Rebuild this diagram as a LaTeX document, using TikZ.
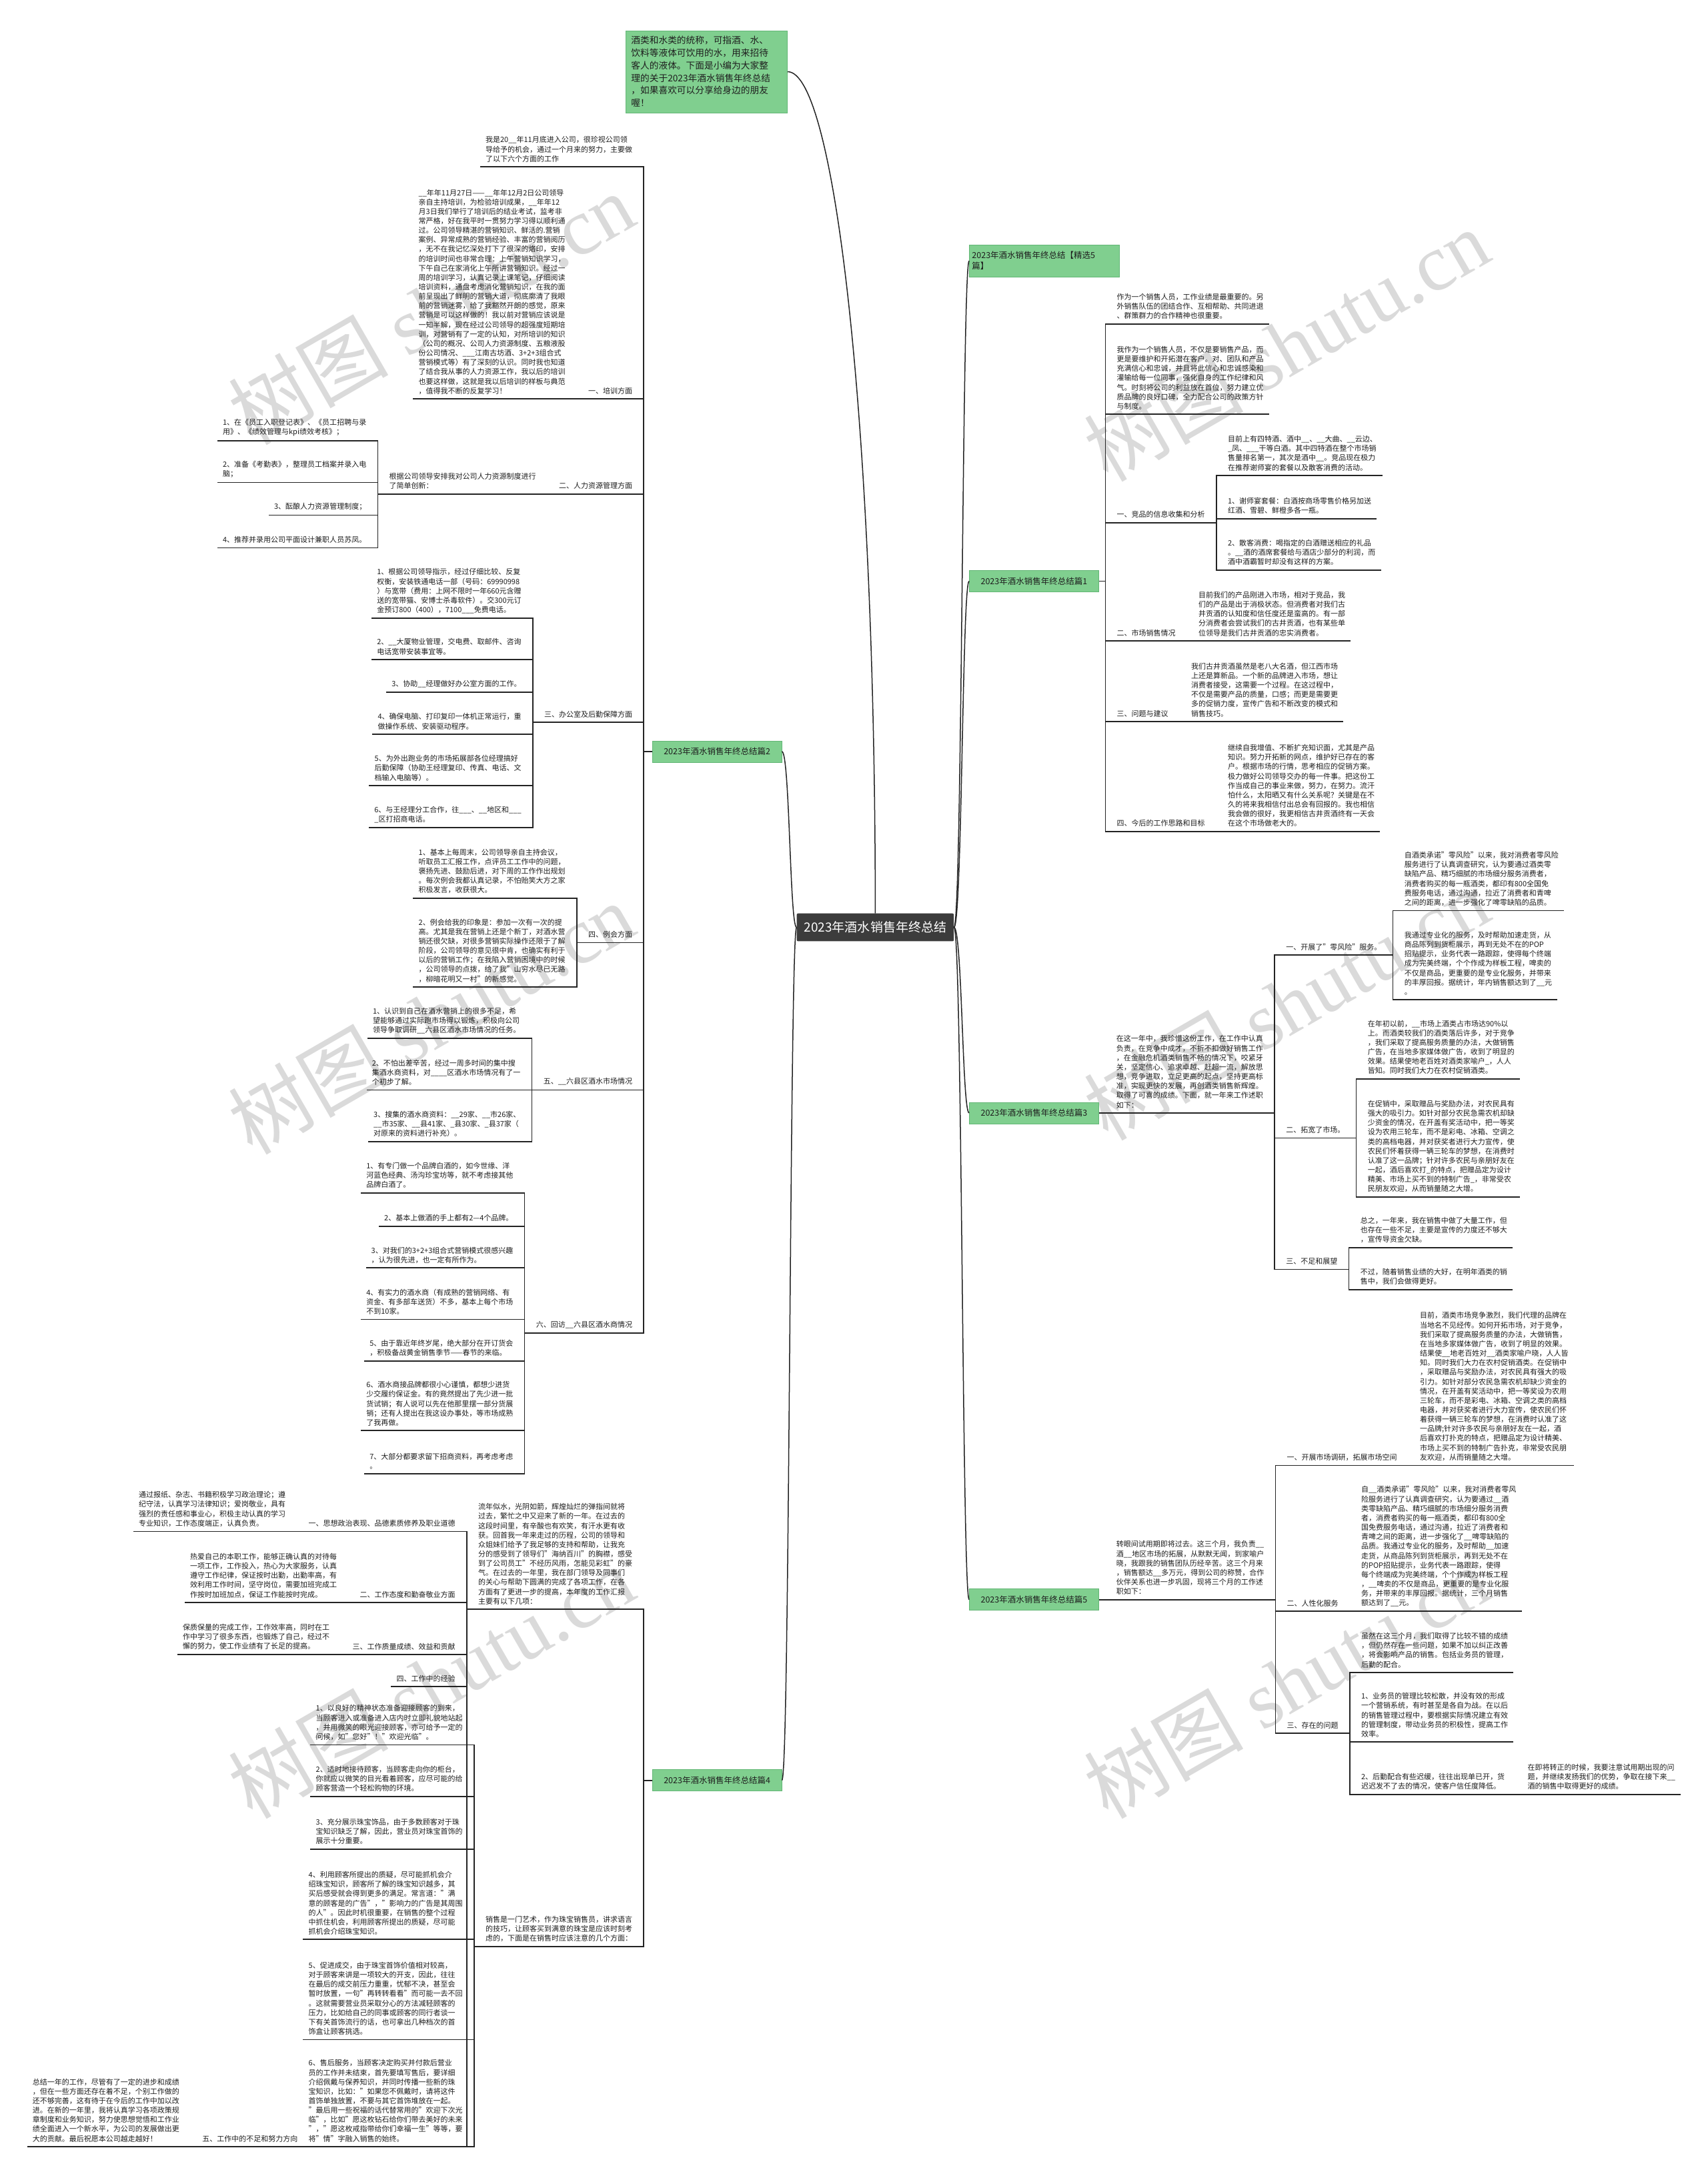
\documentclass[tikz,border=0pt]{standalone}
\usepackage{fontspec}
\setmainfont{Noto Sans CJK SC}
\newfontfamily\wmlatin{Liberation Serif}
\usepackage{xcolor}
\usetikzlibrary{math}
\definecolor{sgreen}{RGB}{128,207,143}
\definecolor{sgreenline}{RGB}{98,182,117}
\definecolor{rootgray}{RGB}{60,60,60}
\definecolor{linegray}{RGB}{35,35,35}
\definecolor{txtgray}{RGB}{30,30,30}
\definecolor{wmgray}{RGB}{218,218,218}
\newcommand\leaffont{\fontsize{11pt}{14.15pt}\selectfont}
\newcommand\sectfont{\fontsize{12.5pt}{16pt}\selectfont}
\tikzset{
  leaf/.style={inner xsep=8pt, inner ysep=6.8pt, align=left, font=\leaffont, text=txtgray},
  sect/.style={fill=sgreen, draw=sgreenline, line width=0.6pt, inner xsep=4pt, inner ysep=2pt, minimum width=194pt, minimum height=32pt, font=\sectfont, text=txtgray, align=left},
  ul/.style={draw=linegray, line width=1.8pt},
  wmark/.style={text=wmgray, font=\fontsize{120pt}{120pt}\selectfont, rotate=30, inner sep=0pt},
}
\begin{document}
\begin{tikzpicture}[x=2.0847pt,y=-2.0847pt]
\tikzmath{
\busL=463;
\busR=795;
}
\useasboundingbox (0,0) rectangle (1228,1568);
\fill[white] (0,0) rectangle (1228,1568);

% watermarks
\node[wmark] (wm1) at (310,222) {树图 {\wmlatin shutu.cn}};
\node[wmark] (wm2) at (925,248) {树图 {\wmlatin shutu.cn}};
\node[wmark] (wm3) at (310,732) {树图 {\wmlatin shutu.cn}};
\node[wmark] (wm4) at (925,722) {树图 {\wmlatin shutu.cn}};
\node[wmark] (wm5) at (310,1210) {树图 {\wmlatin shutu.cn}};
\node[wmark] (wm6) at (925,1210) {树图 {\wmlatin shutu.cn}};

% root, intro and the five sections
\node[fill=rootgray, text=white, rounded corners=2pt, minimum width=235.6pt, minimum height=41.7pt, font=\fontsize{19pt}{22pt}\selectfont] (root) at (629.5,667) {2023年酒水销售年终总结};
\node[fill=sgreen, draw=sgreenline, line width=0.6pt, anchor=north west, text width=226pt, inner xsep=8pt, inner ysep=8pt, align=left, text=txtgray, font=\fontsize{13.7pt}{18.8pt}\selectfont] (intro) at (450,22) {酒类和水类的统称，可指酒、水、\\饮料等液体可饮用的水，用来招待\\客人的液体。下面是小编为大家整\\理的关于2023年酒水销售年终总结\\，如果喜欢可以分享给身边的朋友\\喔！};
\node[sect, anchor=north west, text width=217pt, minimum height=48pt] (s0) at (697,176) {2023年酒水销售年终总结【精选5\\篇】};
\node[sect, anchor=west] (s1) at (697,418) {2023年酒水销售年终总结篇1};
\node[sect, anchor=west] (s3) at (697,800.5) {2023年酒水销售年终总结篇3};
\node[sect, anchor=west] (s5) at (697,1150.5) {2023年酒水销售年终总结篇5};
\node[sect, anchor=west] (s2) at (469,540.5) {2023年酒水销售年终总结篇2};
\node[sect, anchor=west] (s4) at (469,1280.5) {2023年酒水销售年终总结篇4};

\draw[ul, line width=1.5pt] (root.north) .. controls (629.5,300) and (600,51) .. (intro.east);
\draw[ul, line width=1.5pt] (root.east) .. controls (692,667) and (692,187.5) .. (s0.west);
\draw[ul, line width=1.5pt] (root.east) .. controls (692,667) and (692,418) .. (s1.west);
\draw[ul, line width=1.5pt] (root.east) .. controls (692,667) and (692,800.5) .. (s3.west);
\draw[ul, line width=1.5pt] (root.east) .. controls (692,667) and (692,1150.5) .. (s5.west);
\draw[ul, line width=1.5pt] (root.west) .. controls (568,667) and (568,540.5) .. (s2.east);
\draw[ul, line width=1.5pt] (root.west) .. controls (568,667) and (568,1280.5) .. (s4.east);

% ---- section 2 (left)
\coordinate (b2) at (\busL,540.5);
\draw[ul] (s2.west) -- (b2);
\node[leaf, anchor=south east, xshift=-9pt] (n21) at (b2 |- 0,120) {我是20\_\_年11月底进入公司，很珍视公司领\\导给予的机会，通过一个月来的努力，主要做\\了以下六个方面的工作};
\node[leaf, anchor=south east, xshift=-9pt] (n22) at (b2 |- 0,287) {一、培训方面};
\node[leaf, anchor=south east, xshift=-18pt] (n22t) at (n22.south west) {\_\_年年11月27日——\_\_年年12月2日公司领导\\亲自主持培训，为检验培训成果，\_\_年年12\\月3日我们举行了培训后的结业考试，监考非\\常严格，好在我平时一贯努力学习得以顺利通\\过。公司领导精湛的营销知识、鲜活的.营销\\案例、异常成熟的营销经验、丰富的营销阅历\\，无不在我记忆深处打下了很深的烙印，安排\\的培训时间也非常合理：上午营销知识学习，\\下午自己在家消化上午所讲营销知识。经过一\\周的培训学习，认真记录上课笔记，仔细阅读\\培训资料，通盘考虑消化营销知识，在我的面\\前呈现出了鲜明的营销大道，彻底廓清了我眼\\前的营销迷雾，给了我豁然开朗的感觉，原来\\营销是可以这样做的！我以前对营销应该说是\\一知半解，现在经过公司领导的超强度短期培\\训，对营销有了一定的认知，对所培训的知识\\（公司的概况、公司人力资源制度、五粮液股\\份公司情况、\_\_\_江南古坊酒、3+2+3组合式\\营销模式等）有了深刻的认识。同时我也知道\\了结合我从事的人力资源工作，我以后的培训\\也要这样做，这就是我以后培训的样板与典范\\，值得我不断的反复学习！};
\node[leaf, anchor=south east, xshift=-9pt] (n23) at (b2 |- 0,355.3) {二、人力资源管理方面};
\node[leaf, anchor=south east, xshift=-18pt] (n23t) at (n23.south west) {根据公司领导安排我对公司人力资源制度进行\\了简单创新：};
\coordinate (n23bus) at ([xshift=-9pt]n23t.south west);
\node[leaf, anchor=south east, xshift=-9pt] (n23a) at (n23bus |- 0,317) {1、在《员工入职登记表》、《员工招聘与录\\用》、《绩效管理与kpi绩效考核》；};
\node[leaf, anchor=south east, xshift=-9pt] (n23b) at (n23bus |- 0,347) {2、准备《考勤表》，整理员工档案并录入电\\脑；};
\node[leaf, anchor=south east, xshift=-9pt] (n23c) at (n23bus |- 0,370.5) {3、酝酿人力资源管理制度；};
\node[leaf, anchor=south east, xshift=-9pt] (n23d) at (n23bus |- 0,394) {4、推荐并录用公司平面设计兼职人员苏凤。};
\node[leaf, anchor=south east, xshift=-9pt] (n24) at (b2 |- 0,519.5) {三、办公室及后勤保障方面};
\coordinate (n24bus) at ([xshift=-9pt]n24.south west);
\node[leaf, anchor=south east, xshift=-9pt] (n24a) at (n24bus |- 0,444.7) {1、根据公司领导指示，经过仔细比较、反复\\权衡，安装铁通电话一部（号码：69990998\\）与宽带（费用：上网不限时一年660元含赠\\送的宽带猫、安博士杀毒软件）。交300元订\\金预订800（400），7100\_\_\_免费电话。};
\node[leaf, anchor=south east, xshift=-9pt] (n24b) at (n24bus |- 0,474.4) {2、\_\_大厦物业管理，交电费、取邮件、咨询\\电话宽带安装事宜等。};
\node[leaf, anchor=south east, xshift=-9pt] (n24c) at (n24bus |- 0,497.9) {3、协助\_\_经理做好办公室方面的工作。};
\node[leaf, anchor=south east, xshift=-9pt] (n24d) at (n24bus |- 0,528.1) {4、确保电脑、打印复印一体机正常运行，重\\做操作系统、安装驱动程序。};
\node[leaf, anchor=south east, xshift=-9pt] (n24e) at (n24bus |- 0,565.1) {5、为外出跑业务的市场拓展部各位经理搞好\\后勤保障（协助王经理复印、传真、电话、文\\档输入电脑等）。};
\node[leaf, anchor=south east, xshift=-9pt] (n24f) at (n24bus |- 0,595.3) {6、与王经理分工合作，往\_\_\_、\_\_地区和\_\_\_\\\_区打招商电话。};
\node[leaf, anchor=south east, xshift=-9pt] (n25) at (b2 |- 0,678) {四、例会方面};
\coordinate (n25bus) at ([xshift=-9pt]n25.south west);
\node[leaf, anchor=south east, xshift=-9pt] (n25a) at (n25bus |- 0,646) {1、基本上每周末，公司领导亲自主持会议，\\听取员工汇报工作，点评员工工作中的问题，\\褒扬先进、鼓励后进，对下周的工作作出规划\\。每次例会我都认真记录，不怕贻笑大方之家\\积极发言，收获很大。};
\node[leaf, anchor=south east, xshift=-9pt] (n25b) at (n25bus |- 0,710) {2、例会给我的印象是：参加一次有一次的提\\高。尤其是我在营销上还是个新丁，对酒水营\\销还很欠缺，对很多营销实际操作还限于了解\\阶段，公司领导的意见很中肯，也确实有利于\\以后的营销工作；在我陷入营销困境中的时候\\，公司领导的点拨，给了我"山穷水尽已无路\\，柳暗花明又一村"的新感觉。};
\node[leaf, anchor=south east, xshift=-9pt] (n26) at (b2 |- 0,784) {五、\_\_六县区酒水市场情况};
\coordinate (n26bus) at ([xshift=-9pt]n26.south west);
\node[leaf, anchor=south east, xshift=-9pt] (n26a) at (n26bus |- 0,747) {1、认识到自己在酒水营销上的很多不足，希\\望能够通过实际跑市场得以锻炼，积极向公司\\领导争取调研\_\_六县区酒水市场情况的任务。};
\node[leaf, anchor=south east, xshift=-9pt] (n26b) at (n26bus |- 0,784) {2、不怕出差辛苦，经过一周多时间的集中搜\\集酒水商资料，对\_\_\_\_区酒水市场情况有了一\\个初步了解。};
\node[leaf, anchor=south east, xshift=-9pt] (n26c) at (n26bus |- 0,821) {3、搜集的酒水商资料：\_\_29家、\_\_市26家、\\\_\_市35家、\_\_县41家、\_县30家、\_县37家（\\对原来的资料进行补充）。};
\node[leaf, anchor=south east, xshift=-9pt] (n27) at (b2 |- 0,959) {六、回访\_\_六县区酒水商情况};
\coordinate (n27bus) at ([xshift=-9pt]n27.south west);
\node[leaf, anchor=south east, xshift=-9pt] (n27a) at (n27bus |- 0,858) {1、有专门做一个品牌白酒的，如今世缘、洋\\河蓝色经典、汤沟珍宝坊等，就不考虑接其他\\品牌白酒了。};
\node[leaf, anchor=south east, xshift=-9pt] (n27b) at (n27bus |- 0,882) {2、基本上做酒的手上都有2—4个品牌。};
\node[leaf, anchor=south east, xshift=-9pt] (n27c) at (n27bus |- 0,912) {3、对我们的3+2+3组合式营销模式很感兴趣\\，认为很先进，也一定有所作为。};
\node[leaf, anchor=south east, xshift=-9pt] (n27d) at (n27bus |- 0,949) {4、有实力的酒水商（有成熟的营销网络、有\\资金、有多部车送货）不多，基本上每个市场\\不到10家。};
\node[leaf, anchor=south east, xshift=-9pt] (n27e) at (n27bus |- 0,979) {5、由于靠近年终岁尾，绝大部分在开订货会\\，积极备战黄金销售季节——春节的来临。};
\node[leaf, anchor=south east, xshift=-9pt] (n27f) at (n27bus |- 0,1029) {6、酒水商接品牌都很小心谨慎，都想少进货\\少交履约保证金。有的竟然提出了先少进一批\\货试销；有人说可以先在他那里摆一部分货展\\销；还有人提出在我这设办事处，等市场成熟\\了我再做。};
\node[leaf, anchor=south east, xshift=-9pt] (n27g) at (n27bus |- 0,1060) {7、大部分都要求留下招商资料，再考虑考虑\\。};

\draw[ul] (b2) |- (n21.south east) -- (n21.south west);
\draw[ul] (b2) |- (n22.south east) -- (n22.south west) -- (n22t.south east) -- (n22t.south west);
\draw[ul] (b2) |- (n23.south east) -- (n23.south west) -- (n23t.south east) -- (n23t.south west) -- (n23bus);
\foreach \c in {n23a,n23b,n23c,n23d} \draw[ul] (n23bus) |- (\c.south east) -- (\c.south west);
\draw[ul] (b2) |- (n24.south east) -- (n24.south west) -- (n24bus);
\foreach \c in {n24a,n24b,n24c,n24d,n24e,n24f} \draw[ul] (n24bus) |- (\c.south east) -- (\c.south west);
\draw[ul] (b2) |- (n25.south east) -- (n25.south west) -- (n25bus);
\foreach \c in {n25a,n25b} \draw[ul] (n25bus) |- (\c.south east) -- (\c.south west);
\draw[ul] (b2) |- (n26.south east) -- (n26.south west) -- (n26bus);
\foreach \c in {n26a,n26b,n26c} \draw[ul] (n26bus) |- (\c.south east) -- (\c.south west);
\draw[ul] (b2) |- (n27.south east) -- (n27.south west) -- (n27bus);
\foreach \c in {n27a,n27b,n27c,n27d,n27e,n27f,n27g} \draw[ul] (n27bus) |- (\c.south east) -- (\c.south west);

% ---- section 4 (left)
\coordinate (b4) at (\busL,1280.5);
\draw[ul] (s4.west) -- (b4);
\node[leaf, anchor=south east, xshift=-9pt] (n41) at (b4 |- 0,1157.5) {流年似水，光阴如箭，辉煌灿烂的弹指间就将\\过去，繁忙之中又迎来了新的一年。在过去的\\这段时间里，有辛酸也有欢笑，有汗水更有收\\获。回首我一年来走过的历程，公司的领导和\\众姐妹们给予了我足够的支持和帮助，让我充\\分的感受到了领导们"海纳百川"的胸襟，感受\\到了公司员工"不经历风雨，怎能见彩虹"的豪\\气。在过去的一年里，我在部门领导及同事们\\的关心与帮助下圆满的完成了各项工作，在各\\方面有了更进一步的提高，本年度的工作汇报\\主要有以下几项：};
\coordinate (n41bus) at ([xshift=-9pt]n41.south west);
\node[leaf, anchor=south east, xshift=-9pt] (n41a) at (n41bus |- 0,1101.5) {一、思想政治表现、品德素质修养及职业道德};
\node[leaf, anchor=south east, xshift=-18pt] (n41at) at (n41a.south west) {通过报纸、杂志、书籍积极学习政治理论；遵\\纪守法，认真学习法律知识；爱岗敬业，具有\\强烈的责任感和事业心，积极主动认真的学习\\专业知识，工作态度端正，认真负责。};
\node[leaf, anchor=south east, xshift=-9pt] (n41b) at (n41bus |- 0,1152.7) {二、工作态度和勤奋敬业方面};
\node[leaf, anchor=south east, xshift=-18pt] (n41bt) at (n41b.south west) {热爱自己的本职工作，能够正确认真的对待每\\一项工作，工作投入，热心为大家服务，认真\\遵守工作纪律，保证按时出勤，出勤率高，有\\效利用工作时间，坚守岗位，需要加班完成工\\作按时加班加点，保证工作能按时完成。};
\node[leaf, anchor=south east, xshift=-9pt] (n41c) at (n41bus |- 0,1190) {三、工作质量成绩、效益和贡献};
\node[leaf, anchor=south east, xshift=-18pt] (n41ct) at (n41c.south west) {保质保量的完成工作，工作效率高，同时在工\\作中学习了很多东西，也锻炼了自己，经过不\\懈的努力，使工作业绩有了长足的提高。};
\node[leaf, anchor=south east, xshift=-9pt] (n41d) at (n41bus |- 0,1213) {四、工作中的经验};
\node[leaf, anchor=south east] (n41e) at (218,1544) {五、工作中的不足和努力方向};
\node[leaf, anchor=south east, xshift=-18pt] (n41et) at (n41e.south west) {总结一年的工作，尽管有了一定的进步和成绩\\，但在一些方面还存在着不足，个别工作做的\\还不够完善，这有待于在今后的工作中加以改\\进。在新的一年里，我将认真学习各项政策规\\章制度和业务知识，努力使思想觉悟和工作业\\绩全面进入一个新水平，为公司的发展做出更\\大的贡献。最后祝愿本公司越走越好！};
\node[leaf, anchor=south east, xshift=-9pt] (n42) at (b4 |- 0,1400) {销售是一门艺术，作为珠宝销售员，讲求语言\\的技巧，让顾客买到满意的珠宝是应该时刻考\\虑的，下面是在销售时应该注意的几个方面：};
\coordinate (n42bus) at ([xshift=-9pt]n42.south west);
\node[leaf, anchor=south east, xshift=-9pt] (n42a) at (n42bus |- 0,1255) {1、以良好的精神状态准备迎接顾客的到来，\\当顾客进入或准备进入店内时立即礼貌地站起\\，并用微笑的眼光迎接顾客，亦可给予一定的\\问候，如"您好"！"欢迎光临"。};
\node[leaf, anchor=south east, xshift=-9pt] (n42b) at (n42bus |- 0,1292) {2、适时地接待顾客，当顾客走向你的柜台，\\你就应以微笑的目光看着顾客，应尽可能的给\\顾客营造一个轻松购物的环境。};
\node[leaf, anchor=south east, xshift=-9pt] (n42c) at (n42bus |- 0,1330) {3、充分展示珠宝饰品，由于多数顾客对于珠\\宝知识缺乏了解，因此，营业员对珠宝首饰的\\展示十分重要。};
\node[leaf, anchor=south east, xshift=-9pt] (n42d) at (n42bus |- 0,1395) {4、利用顾客所提出的质疑，尽可能抓机会介\\绍珠宝知识，顾客所了解的珠宝知识越多，其\\买后感受就会得到更多的满足。常言道："满\\意的顾客是的广告"，"影响力的广告是其周围\\的人"。因此时机很重要，在销售的整个过程\\中抓住机会，利用顾客所提出的质疑，尽可能\\抓机会介绍珠宝知识。};
\node[leaf, anchor=south east, xshift=-9pt] (n42e) at (n42bus |- 0,1467) {5、促进成交，由于珠宝首饰价值相对较高，\\对于顾客来讲是一项较大的开支，因此，往往\\在最后的成交前压力重重，忧郁不决，甚至会\\暂时放置，一句"再转转看看"而可能一去不回\\。这就需要营业员采取分心的方法减轻顾客的\\压力，比如给自己的同事或顾客的同行者谈一\\下有关首饰流行的话，也可拿出几种档次的首\\饰盒让顾客挑选。};
\node[leaf, anchor=south east, xshift=-9pt] (n42f) at (n42bus |- 0,1544) {6、售后服务，当顾客决定购买并付款后营业\\员的工作并未结束，首先要填写售后，要详细\\介绍佩戴与保养知识，并同时传播一些新的珠\\宝知识，比如："如果您不佩戴时，请将这件\\首饰单独放置，不要与其它首饰堆放在一起。\\"最后用一些祝福的话代替常用的"欢迎下次光\\临"，比如"愿这枚钻石给你们带去美好的未来\\"，"愿这枚戒指带给你们幸福一生"等等，要\\将"情"字融入销售的始终。};

\draw[ul] (b4) |- (n41.south east) -- (n41.south west) -- (n41bus);
\foreach \c/\t in {n41a/n41at,n41b/n41bt,n41c/n41ct,n41e/n41et} \draw[ul] (n41bus) |- (\c.south east) -- (\c.south west) -- (\t.south east) -- (\t.south west);
\draw[ul] (n41bus) |- (n41d.south east) -- (n41d.south west);
\draw[ul] (b4) |- (n42.south east) -- (n42.south west) -- (n42bus);
\foreach \c in {n42a,n42b,n42c,n42d,n42e,n42f} \draw[ul] (n42bus) |- (\c.south east) -- (\c.south west);

% ---- section 1 (right)
\coordinate (b1) at (\busR,418);
\draw[ul] (s1.east) -- (b1);
\node[leaf, anchor=south west, xshift=9pt] (n11) at (b1 |- 0,233) {作为一个销售人员，工作业绩是最重要的。另\\外销售队伍的团结合作、互相帮助、共同进退\\、群策群力的合作精神也很重要。};
\node[leaf, anchor=south west, xshift=9pt] (n12) at (b1 |- 0,298) {我作为一个销售人员，不仅是要销售产品，而\\更是要维护和开拓潜在客户。对、团队和产品\\充满信心和忠诚，并且将此信心和忠诚感染和\\灌输给每一位同事，强化自身的工作纪律和风\\气。时刻将公司的利益放在首位，努力建立优\\质品牌的良好口碑，全力配合公司的政策方针\\与制度。};
\node[leaf, anchor=south west, xshift=9pt] (n13) at (b1 |- 0,376) {一、竞品的信息收集和分析};
\coordinate (n13bus) at ([xshift=9pt]n13.south east);
\node[leaf, anchor=south west, xshift=9pt] (n13a) at (n13bus |- 0,342) {目前上有四特酒、酒中\_\_、\_\_大曲、\_\_云边、\\\_凤、\_\_\_干等白酒。其中四特酒在整个市场销\\售量排名第一，其次是酒中\_\_。竞品现在极力\\在推荐谢师宴的套餐以及散客消费的活动。};
\node[leaf, anchor=south west, xshift=9pt] (n13b) at (n13bus |- 0,373) {1、谢师宴套餐：白酒按商场零售价格另加送\\红酒、雪碧、鲜橙多各一瓶。};
\node[leaf, anchor=south west, xshift=9pt] (n13c) at (n13bus |- 0,410) {2、散客消费：喝指定的白酒赠送相应的礼品\\。\_\_酒的酒席套餐给与酒店少部分的利润，而\\酒中酒霸暂时却没有这样的方案。};
\node[leaf, anchor=south west, xshift=9pt] (n14) at (b1 |- 0,461) {二、市场销售情况};
\node[leaf, anchor=south west, xshift=18pt] (n14t) at (n14.south east) {目前我们的产品刚进入市场，相对于竞品，我\\们的产品是出于消极状态。但消费者对我们古\\井贡酒的认知度和信任度还是蛮高的。有一部\\分消费者会尝试我们的古井贡酒，也有某些单\\位领导是我们古井贡酒的忠实消费者。};
\node[leaf, anchor=south west, xshift=9pt] (n15) at (b1 |- 0,519) {三、问题与建议};
\node[leaf, anchor=south west, xshift=18pt] (n15t) at (n15.south east) {我们古井贡酒虽然是老八大名酒，但江西市场\\上还是算新品。一个新的品牌进入市场，想让\\消费者接受，这需要一个过程。在这过程中，\\不仅是需要产品的质量，口感；而更是需要更\\多的促销力度，宣传广告和不断改变的模式和\\销售技巧。};
\node[leaf, anchor=south west, xshift=9pt] (n16) at (b1 |- 0,598) {四、今后的工作思路和目标};
\node[leaf, anchor=south west, xshift=18pt] (n16t) at (n16.south east) {继续自我增值、不断扩充知识面，尤其是产品\\知识。努力开拓新的网点，维护好已存在的客\\户。根据市场的行情，思考相应的促销方案。\\极力做好公司领导交办的每一件事。把这份工\\作当成自己的事业来做，努力，在努力。流汗\\怕什么，太阳晒又有什么关系呢？关键是在不\\久的将来我相信付出总会有回报的。我也相信\\我会做的很好，我更相信古井贡酒终有一天会\\在这个市场做老大的。};

\foreach \c in {n11,n12} \draw[ul] (b1) |- (\c.south west) -- (\c.south east);
\draw[ul] (b1) |- (n13.south west) -- (n13.south east) -- (n13bus);
\foreach \c in {n13a,n13b,n13c} \draw[ul] (n13bus) |- (\c.south west) -- (\c.south east);
\foreach \c/\t in {n14/n14t,n15/n15t,n16/n16t} \draw[ul] (b1) |- (\c.south west) -- (\c.south east) -- (\t.south west) -- (\t.south east);

% ---- section 3 (right)
\node[leaf, anchor=south west, xshift=18pt] (n31) at (s3.east) {在这一年中，我珍惜这份工作，在工作中认真\\负责，在竞争中成才，不折不扣做好销售工作\\，在金融危机酒类销售不畅的情况下，咬紧牙\\关，坚定信心、追求卓越、赶超一流，解放思\\想，竞争进取，立足更高的起点，坚持更高标\\准，实现更快的发展，再创酒类销售新辉煌。\\取得了可喜的成绩。下面，就一年来工作述职\\如下：};
\coordinate (n31bus) at ([xshift=9pt]n31.south east);
\node[leaf, anchor=south west, xshift=9pt] (n31a) at (n31bus |- 0,687) {一、开展了"零风险"服务。};
\coordinate (n31abus) at ([xshift=9pt]n31a.south east);
\node[leaf, anchor=south west, xshift=9pt] (n31a1) at (n31abus |- 0,655) {自酒类承诺"零风险"以来，我对消费者零风险\\服务进行了认真调查研究，认为要通过酒类零\\缺陷产品、精巧细腻的市场细分服务消费者，\\消费者购买的每一瓶酒类，都印有800全国免\\费服务电话，通过沟通，拉近了消费者和青啤\\之间的距离，进一步强化了啤零缺陷的品质。};
\node[leaf, anchor=south west, xshift=9pt] (n31a2) at (n31abus |- 0,719) {我通过专业化的服务，及时帮助加速走货，从\\商品陈列到货柜展示，再到无处不在的POP\\招贴提示，业务代表一路跟踪，使得每个终端\\成为完美终端，个个作成为样板工程，啤卖的\\不仅是商品，更重要的是专业化服务，并带来\\的丰厚回报。据统计，年内销售额达到了\_\_元\\。};
\node[leaf, anchor=south west, xshift=9pt] (n31b) at (n31bus |- 0,818.5) {二、拓宽了市场。};
\coordinate (n31bbus) at ([xshift=9pt]n31b.south east);
\node[leaf, anchor=south west, xshift=9pt] (n31b1) at (n31bbus |- 0,776) {在年初以前，\_\_市场上酒类占市场达90\%以\\上。而酒类较我们的酒类落后许多，对于竞争\\，我们采取了提高服务质量的办法，大做销售\\广告，在当地多家媒体做广告，收到了明显的\\效果。结果使地老百姓对酒类家喻户\_，人人\\皆知。同时我们大力在农村促销酒类。};
\node[leaf, anchor=south west, xshift=9pt] (n31b2) at (n31bbus |- 0,861) {在促销中，采取赠品与奖励办法，对农民具有\\强大的吸引力。如针对部分农民急需农机却缺\\少资金的情况，在开盖有奖活动中，把一等奖\\设为农用三轮车，而不是彩电、冰箱、空调之\\类的高档电器，并对获奖者进行大力宣传，使\\农民们怀着获得一辆三轮车的梦想，在消费时\\认准了这一品牌；针对许多农民与亲朋好友在\\一起，酒后喜欢打\_的特点，把赠品定为设计\\精美、市场上买不到的特制广告\_，非常受农\\民朋友欢迎，从而销量随之大增。};
\node[leaf, anchor=south west, xshift=9pt] (n31c) at (n31bus |- 0,913) {三、不足和展望};
\coordinate (n31cbus) at ([xshift=9pt]n31c.south east);
\node[leaf, anchor=south west, xshift=9pt] (n31c1) at (n31cbus |- 0,897.5) {总之，一年来，我在销售中做了大量工作，但\\也存在一些不足，主要是宣传的力度还不够大\\，宣传导资金欠缺。};
\node[leaf, anchor=south west, xshift=9pt] (n31c2) at (n31cbus |- 0,927.5) {不过，随着销售业绩的大好，在明年酒类的销\\售中，我们会做得更好。};

\draw[ul] (s3.east) -- (n31.south west) -- (n31.south east) -- (n31bus);
\foreach \p in {n31a,n31b,n31c} \draw[ul] (n31bus) |- (\p.south west) -- (\p.south east) -- ++(9pt,0);
\foreach \c in {n31a1,n31a2} \draw[ul] (n31abus) |- (\c.south west) -- (\c.south east);
\foreach \c in {n31b1,n31b2} \draw[ul] (n31bbus) |- (\c.south west) -- (\c.south east);
\foreach \c in {n31c1,n31c2} \draw[ul] (n31cbus) |- (\c.south west) -- (\c.south east);

% ---- section 5 (right)
\node[leaf, anchor=south west, xshift=18pt] (n51) at (s5.east) {转眼间试用期即将过去。这三个月，我负责\_\_\\酒\_\_地区市场的拓展，从默默无闻，到家喻户\\晓，我跟我的销售团队历经辛苦。这三个月来\\，销售额达\_\_多万元，得到公司的称赞，合作\\伙伴关系也进一步巩固，现将三个月的工作述\\职如下：};
\coordinate (n51bus) at ([xshift=9pt]n51.south east);
\node[leaf, anchor=south west, xshift=9pt] (n51a) at (n51bus |- 0,1054) {一、开展市场调研，拓展市场空间};
\node[leaf, anchor=south west, xshift=18pt] (n51at) at (n51a.south east) {目前，酒类市场竞争激烈，我们代理的品牌在\\当地名不见经传。如何开拓市场，对于竞争，\\我们采取了提高服务质量的办法，大做销售，\\在当地多家媒体做广告，收到了明显的效果。\\结果使\_\_地老百姓对\_\_酒类家喻户晓，人人皆\\知。同时我们大力在农村促销酒类。在促销中\\，采取赠品与奖励办法，对农民具有强大的吸\\引力。如针对部分农民急需农机却缺少资金的\\情况，在开盖有奖活动中，把一等奖设为农用\\三轮车，而不是彩电、冰箱、空调之类的高档\\电器，并对获奖者进行大力宣传，使农民们怀\\着获得一辆三轮车的梦想，在消费时认准了这\\一品牌;针对许多农民与亲朋好友在一起，酒\\后喜欢打扑克的特点，把赠品定为设计精美、\\市场上买不到的特制广告扑克，非常受农民朋\\友欢迎，从而销量随之大增。};
\node[leaf, anchor=south west, xshift=9pt] (n51b) at (n51bus |- 0,1159) {二、人性化服务};
\node[leaf, anchor=south west, xshift=18pt] (n51bt) at (n51b.south east) {自\_\_酒类承诺"零风险"以来，我对消费者零风\\险服务进行了认真调查研究，认为要通过\_\_酒\\类零缺陷产品、精巧细腻的市场细分服务消费\\者，消费者购买的每一瓶酒类，都印有800全\\国免费服务电话，通过沟通，拉近了消费者和\\青啤之间的距离，进一步强化了\_\_啤零缺陷的\\品质。我通过专业化的服务，及时帮助\_\_加速\\走货，从商品陈列到货柜展示，再到无处不在\\的POP招贴提示，业务代表一路跟踪，使得\\每个终端成为完美终端，个个作成为样板工程\\，\_\_啤卖的不仅是商品，更重要的是专业化服\\务，并带来的丰厚回报。据统计，三个月销售\\额达到了\_\_元。};
\node[leaf, anchor=south west, xshift=9pt] (n51c) at (n51bus |- 0,1246.6) {三、存在的问题};
\coordinate (n51cbus) at ([xshift=9pt]n51c.south east);
\node[leaf, anchor=south west, xshift=9pt] (n51c1) at (n51cbus |- 0,1203) {虽然在这三个月，我们取得了比较不错的成绩\\，但仍然存在一些问题，如果不加以纠正改善\\，将会影响产品的销售。包括业务员的管理，\\后勤的配合。};
\node[leaf, anchor=south west, xshift=9pt] (n51c2) at (n51cbus |- 0,1253) {1、业务员的管理比较松散，并没有效的形成\\一个营销系统，有时甚至是各自为战。在以后\\的销售管理过程中，要根据实际情况建立有效\\的管理制度，带动业务员的积极性，提高工作\\效率。};
\node[leaf, anchor=south west, xshift=9pt] (n51c3) at (n51cbus |- 0,1290.6) {2、后勤配合有些迟缓，往往出现单已开，货\\迟迟发不了去的情况，使客户信任度降低。};
\node[leaf, anchor=south west, xshift=18pt] (n51c3t) at (n51c3.south east) {在即将转正的时候，我要注意试用期出现的问\\题，并继续发扬我们的优势，争取在接下来\_\_\\酒的销售中取得更好的成绩。};

\draw[ul] (s5.east) -- (n51.south west) -- (n51.south east) -- (n51bus);
\foreach \c/\t in {n51a/n51at,n51b/n51bt} \draw[ul] (n51bus) |- (\c.south west) -- (\c.south east) -- (\t.south west) -- (\t.south east);
\draw[ul] (n51bus) |- (n51c.south west) -- (n51c.south east) -- (n51cbus);
\foreach \c in {n51c1,n51c2} \draw[ul] (n51cbus) |- (\c.south west) -- (\c.south east);
\draw[ul] (n51cbus) |- (n51c3.south west) -- (n51c3.south east) -- (n51c3t.south west) -- (n51c3t.south east);
\end{tikzpicture}
\end{document}
